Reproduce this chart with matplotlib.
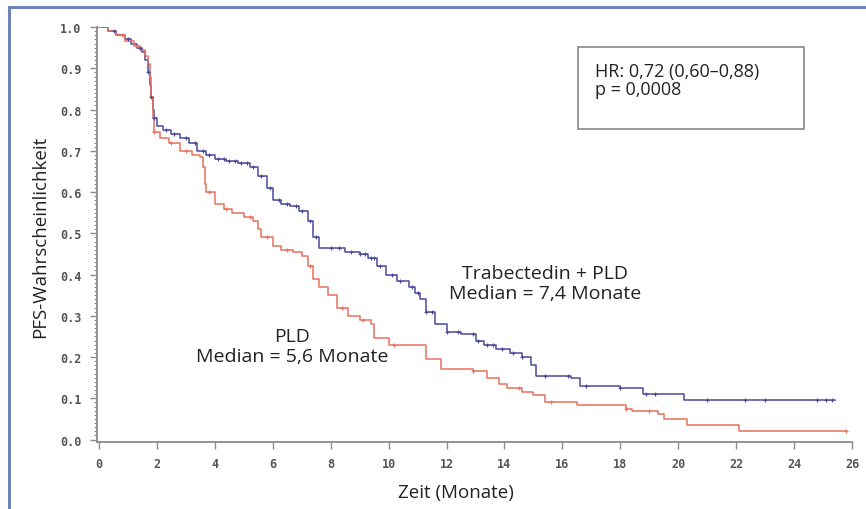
# PFS Kaplan-Meier: Trabectedin + PLD vs PLD
import numpy as np
import matplotlib.pyplot as plt
from matplotlib.lines import Line2D
from matplotlib.patches import Rectangle

# Trabectedin + PLD (blue) step points
blue_t = [0, 0.3, 0.6, 0.9, 1.1, 1.3, 1.5, 1.6, 1.7, 1.75, 1.8, 1.85, 1.9, 2.0,
          2.2, 2.5, 2.8, 3.1, 3.4, 3.7, 4.0, 4.4, 4.8, 5.2, 5.5, 5.8, 6.0, 6.3,
          6.6, 6.9, 7.2, 7.4, 7.6, 8.5, 9.0, 9.3, 9.6, 9.9, 10.3, 10.7, 10.9,
          11.1, 11.3, 11.6, 12.0, 12.5, 13.0, 13.3, 13.7, 14.2, 14.6, 14.9,
          15.1, 16.3, 16.6, 18.0, 18.8, 20.2, 25.4]
blue_s = [1.0, 0.99, 0.98, 0.97, 0.96, 0.95, 0.94, 0.92, 0.89, 0.86, 0.83, 0.80,
          0.78, 0.76, 0.75, 0.74, 0.73, 0.72, 0.70, 0.69, 0.68, 0.675, 0.67,
          0.66, 0.64, 0.61, 0.58, 0.57, 0.565, 0.555, 0.53, 0.49, 0.465, 0.455,
          0.45, 0.44, 0.42, 0.40, 0.385, 0.37, 0.355, 0.34, 0.31, 0.28, 0.26,
          0.255, 0.24, 0.23, 0.22, 0.21, 0.20, 0.18, 0.155, 0.15, 0.13, 0.125,
          0.11, 0.095, 0.095]
blue_cens = [0.5, 1.0, 1.4, 1.7, 1.8, 1.9, 2.3, 2.6, 3.0, 3.3, 3.6, 3.8, 4.1,
             4.3, 4.5, 4.7, 4.9, 5.1, 5.3, 5.6, 5.9, 6.2, 6.5, 6.8, 7.0, 7.3,
             7.5, 8.0, 8.3, 8.7, 9.0, 9.2, 9.4, 9.5, 9.7, 10.1, 10.4, 10.8,
             11.0, 11.3, 11.5, 12.0, 12.4, 12.9, 13.1, 13.4, 13.6, 13.9, 14.3,
             14.6, 15.4, 16.2, 16.8, 18.0, 18.9, 19.2, 21.0, 22.3, 23.0, 24.8,
             25.1, 25.3]

# PLD (red) step points
red_t = [0, 0.3, 0.6, 0.9, 1.2, 1.4, 1.6, 1.7, 1.75, 1.8, 1.85, 1.9, 2.1, 2.4,
         2.8, 3.2, 3.5, 3.6, 3.65, 3.7, 4.0, 4.3, 4.6, 5.0, 5.3, 5.5, 5.6, 6.0,
         6.3, 6.7, 7.0, 7.2, 7.4, 7.6, 7.9, 8.2, 8.6, 9.0, 9.4, 9.5, 10.0,
         11.1, 11.3, 11.8, 12.9, 13.4, 13.8, 14.1, 14.6, 15.0, 15.4, 16.5,
         18.2, 18.4, 19.3, 19.5, 20.3, 22.1, 25.8]
red_s = [1.0, 0.99, 0.98, 0.965, 0.955, 0.945, 0.93, 0.91, 0.88, 0.83, 0.78, 0.745,
         0.73, 0.72, 0.70, 0.69, 0.685, 0.66, 0.62, 0.60, 0.57, 0.56, 0.55,
         0.54, 0.53, 0.51, 0.49, 0.47, 0.46, 0.455, 0.445, 0.42, 0.39, 0.37,
         0.35, 0.32, 0.30, 0.29, 0.28, 0.245, 0.23, 0.23, 0.195, 0.17, 0.167,
         0.148, 0.135, 0.124, 0.115, 0.107, 0.092, 0.083, 0.075, 0.068, 0.063,
         0.05, 0.035, 0.02, 0.02]
red_cens = [0.8, 1.3, 1.9, 2.5, 3.0, 3.8, 4.4, 5.2, 5.8, 6.5, 7.3, 8.4, 9.1,
            10.2, 12.9, 14.5, 15.6, 18.2, 19.0, 25.8]

x_ticks = [0, 2, 4, 6, 8, 10, 12, 14, 16, 18, 20, 22, 24, 26]
y_ticks = [0.0, 0.1, 0.2, 0.3, 0.4, 0.5, 0.6, 0.7, 0.8, 0.9, 1.0]

blue = '#4a4a9c'
red = '#e8705e'
txt_font = ['Open Sans', 'DejaVu Sans']


def step_at(t, s, c):
    idx = np.searchsorted(np.array(t), np.array(c), side='right') - 1
    return np.array(s)[idx]


fig = plt.figure(figsize=(8.66, 5.10), dpi=100)
ax = fig.add_axes([97 / 866, 1 - 443 / 510, (852 - 97) / 866, 415 / 510])

ax.step(blue_t, blue_s, where='post', color=blue, lw=1.1)
ax.step(red_t, red_s, where='post', color=red, lw=1.1)
ax.plot(blue_cens, step_at(blue_t, blue_s, blue_cens), '+', color=blue, ms=3.5, mew=0.8)
ax.plot(red_cens, step_at(red_t, red_s, red_cens), '+', color=red, ms=3.5, mew=0.8)

ax.set_xlim(-0.07, 26)
ax.set_ylim(-0.006, 1.0)
for side in ['top', 'right']:
    ax.spines[side].set_visible(False)
for side in ['left', 'bottom']:
    ax.spines[side].set_color('#8a8a8a')
    ax.spines[side].set_linewidth(1.3)

ax.set_xticks(x_ticks)
ax.set_xticklabels([str(v) for v in x_ticks])
ax.set_yticks(y_ticks)
ax.set_yticklabels([f'{v:.1f}' for v in y_ticks])
ax.set_yticks(np.arange(0, 1.0001, 0.01), minor=True)
ax.tick_params(axis='both', which='major', length=5, width=1, color='#8a8a8a',
               labelsize=8.5, labelcolor='#555555', pad=6)
ax.tick_params(axis='y', which='minor', length=2.5, width=0.8, color='#8a8a8a')
for lab in ax.get_xticklabels() + ax.get_yticklabels():
    lab.set_family('DejaVu Sans Mono')
    lab.set_weight('bold')

fig.text(40 / 866, 1 - 237 / 510, 'PFS-Wahrscheinlichkeit', rotation=90,
         ha='center', va='center', fontsize=13.5, color='#222222', family=txt_font)
fig.text(456 / 866, 1 - 493 / 510, 'Zeit (Monate)', ha='center', va='center',
         fontsize=13.5, color='#222222', family=txt_font)

fig.text(545 / 866, 1 - 284 / 510, 'Trabectedin + PLD\nMedian = 7,4 Monate',
         ha='center', va='center', fontsize=14, color='#222222',
         family=txt_font, linespacing=1.1)
fig.text(292 / 866, 1 - 347 / 510, 'PLD\nMedian = 5,6 Monate',
         ha='center', va='center', fontsize=14, color='#222222',
         family=txt_font, linespacing=1.1)

# HR box
fig.patches.append(Rectangle((578 / 866, 1 - 130 / 510), 226 / 866, 82 / 510,
                             transform=fig.transFigure, fill=False,
                             edgecolor='#888888', lw=1.2))
fig.text(595 / 866, 1 - 81 / 510, 'HR: 0,72 (0,60–0,88)\np = 0,0008',
         ha='left', va='center', fontsize=13, color='#222222',
         family=txt_font, linespacing=1.05)

# outer frame (left + top)
frame_col = '#6e84b4'
fig.add_artist(Line2D([9 / 866, 9 / 866], [0, 1 - 8 / 510],
                      transform=fig.transFigure, color=frame_col, lw=2.2))
fig.add_artist(Line2D([9 / 866, 1], [1 - 8 / 510, 1 - 8 / 510],
                      transform=fig.transFigure, color=frame_col, lw=2.2))

fig.savefig('out.png', dpi=100)
